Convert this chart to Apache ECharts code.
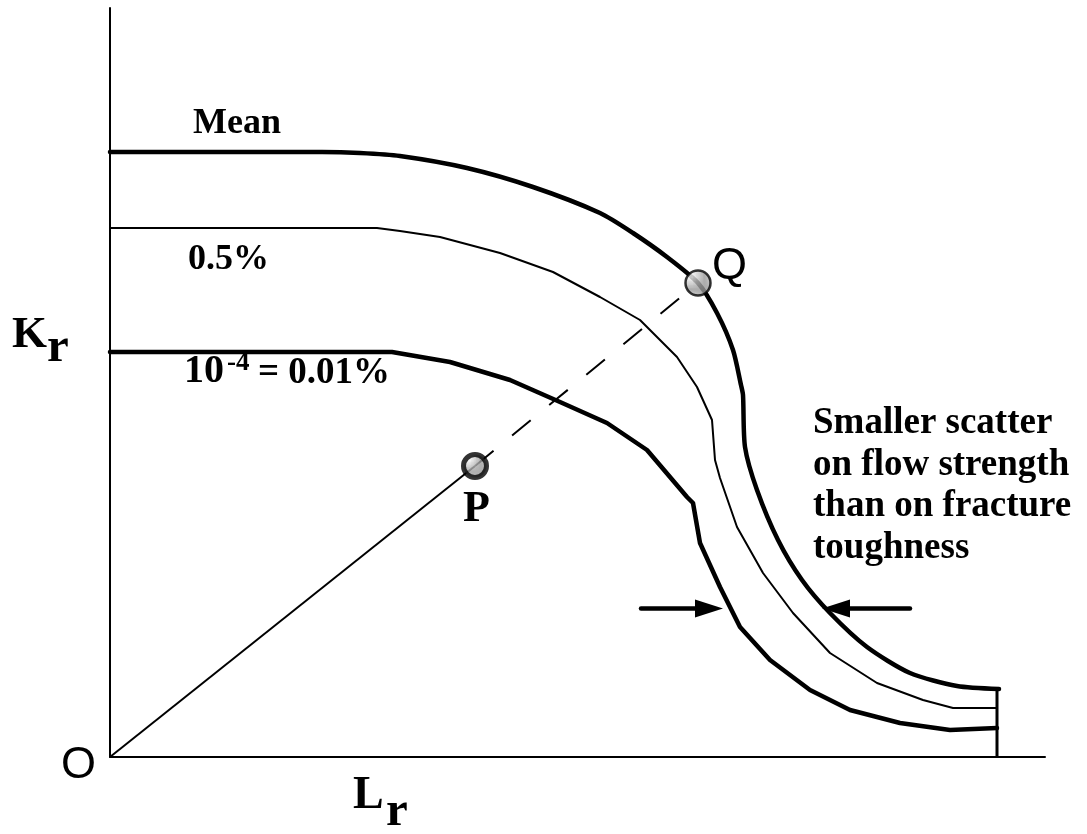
<!DOCTYPE html>
<html>
<head>
<meta charset="utf-8">
<script src="https://cdn.jsdelivr.net/npm/echarts@6/dist/echarts.min.js"></script>
<style>
html,body{margin:0;padding:0;background:#fff;}
#chart{width:1087px;height:834px;}
</style>
</head>
<body>
<div id="chart"></div>
<script>
// Axis ranges (Lr, Kr in arbitrary normalized units)
const lrRange = [0, 1.87];
const krRange = [0, 1.498];

// Failure assessment curves [Lr, Kr]
const meanCurve = [
  [0, 1.21], [0.424, 1.21], [0.5, 1.208], [0.58, 1.202], [0.714, 1.178], [0.846, 1.14],
  [0.98, 1.088], [1.046, 1.048], [1.114, 1.0], [1.176, 0.948], [1.214, 0.888],
  [1.246, 0.814], [1.262, 0.744], [1.266, 0.724], [1.27, 0.62], [1.294, 0.534],
  [1.336, 0.434], [1.384, 0.354], [1.44, 0.288], [1.514, 0.22], [1.6, 0.168],
  [1.694, 0.142], [1.778, 0.136]
];
const halfPctCurve = [
  [0, 1.058], [0.534, 1.058], [0.58, 1.052], [0.66, 1.04], [0.78, 1.008],
  [0.886, 0.97], [0.98, 0.92], [1.06, 0.874], [1.134, 0.8], [1.174, 0.74],
  [1.204, 0.674], [1.21, 0.594], [1.22, 0.558], [1.254, 0.46], [1.306, 0.368],
  [1.366, 0.288], [1.44, 0.208], [1.534, 0.148], [1.626, 0.114], [1.686, 0.098],
  [1.774, 0.098]
];
const tenMinus4Curve = [
  [0, 0.81], [0.564, 0.81], [0.68, 0.79], [0.8, 0.754], [0.9, 0.71],
  [0.994, 0.668], [1.074, 0.614], [1.154, 0.52], [1.166, 0.508], [1.18, 0.428],
  [1.22, 0.34], [1.26, 0.26], [1.32, 0.194], [1.4, 0.134], [1.48, 0.094],
  [1.58, 0.068], [1.68, 0.054], [1.774, 0.058]
];
// Cut-off line at Lr max
const cutoffLine = [[1.774, 0], [1.774, 0.136]];

// Points
const pointO = [0, 0];
const pointP = [0.73, 0.582];
const pointQ = [1.176, 0.948];

// Arrows: [fromLr, toLr(tip), Kr]
const arrows = [
  [1.062, 1.226, 0.297],
  [1.6, 1.424, 0.297]
];

// grey grid fill pattern for markers
const pc = document.createElement('canvas');
pc.width = 3; pc.height = 3;
const pctx = pc.getContext('2d');
pctx.fillStyle = '#f6f6f6'; pctx.fillRect(0, 0, 3, 3);
pctx.fillStyle = '#999999'; pctx.fillRect(0, 0, 3, 1); pctx.fillRect(0, 0, 1, 3);
const pattern = { image: pc, repeat: 'repeat' };

const SERIF = '"Liberation Serif", "Times New Roman", serif';
const SANS = '"Liberation Sans", Arial, sans-serif';

function txt(x, y, text, size, bold, family) {
  return {
    type: 'text', z: 100,
    style: {
      x: x, y: y, text: text,
      font: (bold ? 'bold ' : '') + size + 'px ' + family,
      fill: '#000', align: 'left', verticalAlign: 'middle'
    }
  };
}

const chart = echarts.init(document.getElementById('chart'), null, {renderer: 'canvas'});
chart.setOption({
  animation: false,
  backgroundColor: '#fff',
  grid: { left: 110, right: 42, top: 8, bottom: 77 },
  xAxis: {
    type: 'value', min: lrRange[0], max: lrRange[1],
    axisLine: { show: true, onZero: false, lineStyle: { color: '#000', width: 2 } },
    axisTick: { show: false }, axisLabel: { show: false }, splitLine: { show: false }
  },
  yAxis: {
    type: 'value', min: krRange[0], max: krRange[1],
    axisLine: { show: true, onZero: false, lineStyle: { color: '#000', width: 2 } },
    axisTick: { show: false }, axisLabel: { show: false }, splitLine: { show: false }
  },
  series: [
    { type: 'line', name: 'Mean', data: meanCurve, showSymbol: false, symbol: 'none',
      smooth: 0.25,
      lineStyle: { color: '#000', width: 4.5, cap: 'round', join: 'round' } },
    { type: 'line', name: '0.5%', data: halfPctCurve, showSymbol: false, symbol: 'none',
      lineStyle: { color: '#000', width: 2, join: 'round' } },
    { type: 'line', name: '0.01%', data: tenMinus4Curve, showSymbol: false, symbol: 'none',
      lineStyle: { color: '#000', width: 4.5, cap: 'round', join: 'round' } },
    { type: 'line', data: cutoffLine, showSymbol: false, symbol: 'none',
      lineStyle: { color: '#000', width: 3 } },
    { type: 'line', data: [pointO, pointP], showSymbol: false, symbol: 'none',
      lineStyle: { color: '#000', width: 2 } },
    { type: 'line', data: [pointP, pointQ], showSymbol: false, symbol: 'none',
      lineStyle: { color: '#000', width: 2, type: [24, 24] } },
    { type: 'custom', data: arrows, encode: { x: [0, 1], y: 2 },
      renderItem: function (params, api) {
        const a = api.coord([api.value(0), api.value(2)]);
        const b = api.coord([api.value(1), api.value(2)]);
        const dir = b[0] > a[0] ? 1 : -1;
        const hl = 28, hw = 9;
        const base = b[0] - dir * hl;
        return {
          type: 'group',
          children: [
            { type: 'line', shape: { x1: a[0], y1: a[1], x2: base + dir * 2, y2: b[1] },
              style: { stroke: '#000', lineWidth: 4.5, lineCap: 'round' } },
            { type: 'polygon', shape: { points: [[b[0], b[1]], [base, b[1] - hw], [base, b[1] + hw]] },
              style: { fill: '#000' } }
          ]
        };
      } },
    { type: 'scatter', z: 10, data: [
        { value: pointP, symbolSize: 23, itemStyle: { color: pattern, borderColor: '#000', borderWidth: 5 } },
        { value: pointQ, symbolSize: 25, itemStyle: { color: pattern, borderColor: '#000', borderWidth: 2.5 } }
      ] }
  ],
  graphic: [
    txt(193, 124, 'Mean', 36, true, SERIF),
    txt(188, 260, '0.5%', 36, true, SERIF),
    txt(184, 372, '10', 40, true, SERIF),
    txt(227, 363, '-4', 27, true, SERIF),
    txt(258, 373, '= 0.01%', 37, true, SERIF),
    txt(813, 423, 'Smaller scatter', 37, true, SERIF),
    txt(813, 465, 'on flow strength', 37, true, SERIF),
    txt(813, 506, 'than on fracture', 37, true, SERIF),
    txt(813, 548, 'toughness', 37, true, SERIF),
    txt(12, 335, 'K', 45, true, SERIF),
    txt(47, 348, 'r', 49, true, SERIF),
    txt(353, 796, 'L', 46, true, SERIF),
    txt(386, 812, 'r', 49, true, SERIF),
    txt(61, 766, 'O', 45, false, SANS),
    txt(712, 267, 'Q', 45, false, SANS),
    txt(463, 510, 'P', 44, true, SERIF)
  ]
});
</script>
</body>
</html>
